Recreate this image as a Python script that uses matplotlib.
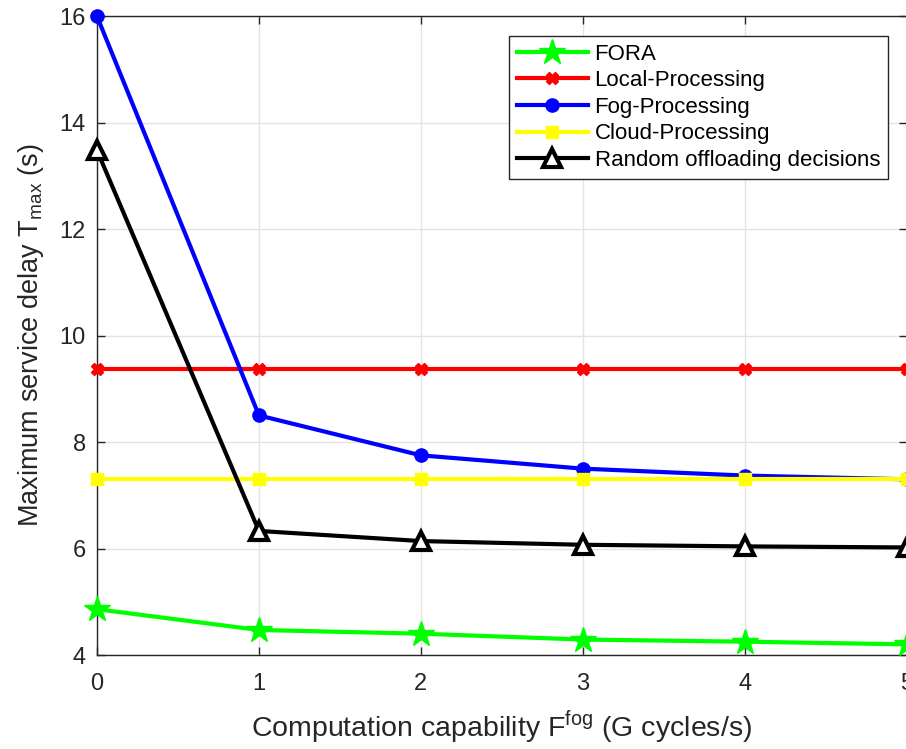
import matplotlib
matplotlib.use('Agg')
import matplotlib.pyplot as plt

# Computation capability of fog nodes (G cycles/s)
f_fog = [0, 1, 2, 3, 4, 5]

# Maximum service delay for each scheme (s)
fora = [4.86, 4.47, 4.40, 4.29, 4.25, 4.20]
local_proc = [9.37, 9.37, 9.37, 9.37, 9.37, 9.37]
fog_proc = [16.0, 8.50, 7.75, 7.50, 7.37, 7.30]
cloud_proc = [7.31, 7.31, 7.31, 7.31, 7.31, 7.31]
random_dec = [13.48, 6.33, 6.14, 6.07, 6.04, 6.02]

labels = ['FORA', 'Local-Processing', 'Fog-Processing', 'Cloud-Processing',
          'Random offloading decisions']


def main():
    plt.rcParams['font.family'] = ['Liberation Sans', 'DejaVu Sans']
    plt.rcParams['mathtext.fontset'] = 'custom'
    plt.rcParams['mathtext.rm'] = 'Liberation Sans'
    fig = plt.figure(figsize=(9.06, 7.49), dpi=100)
    ax = fig.add_axes([0.107, 0.1255, 0.894, 0.853])

    lw = 3
    ax.plot(f_fog, fora, color=(0, 1, 0), lw=lw, marker='*', ms=19,
            label=labels[0], clip_on=False, zorder=3)
    ax.plot(f_fog, local_proc, color='red', lw=lw, marker='X', ms=8,
            label=labels[1], clip_on=False, zorder=3)
    ax.plot(f_fog, fog_proc, color='blue', lw=lw, marker='o', ms=9.5,
            label=labels[2], clip_on=False, zorder=3)
    ax.plot(f_fog, cloud_proc, color='yellow', lw=lw, marker='s', ms=9,
            label=labels[3], clip_on=False, zorder=3)
    ax.plot(f_fog, random_dec, color='black', lw=lw, marker='^', ms=13,
            mfc='white', mew=3, label=labels[4], clip_on=False, zorder=3)

    ax.set_xlim(0, 5)
    ax.set_ylim(4, 16)
    ax.set_xticks(range(0, 6))
    ax.set_yticks(range(4, 17, 2))
    ax.grid(True, color='#e3e3e3', lw=1)
    ax.set_axisbelow(True)

    ax.tick_params(direction='in', length=6, width=1, colors='#262626',
                   labelsize=17, top=True, right=True)
    ax.tick_params(axis='x', pad=13)
    ax.tick_params(axis='y', pad=8)
    for s in ax.spines.values():
        s.set_color('#262626')
        s.set_linewidth(1)

    ax.set_xlabel(r'Computation capability F$^{\mathrm{fog}}$ (G cycles/s)',
                  fontsize=20.5, color='#262626', labelpad=10)
    ax.set_ylabel(r'Maximum service delay T$_{\mathrm{max}}$ (s)',
                  fontsize=19.5, color='#262626', labelpad=10)

    leg = ax.legend(loc='upper right', bbox_to_anchor=(0.9765, 0.969),
                    borderaxespad=0, fontsize=16, fancybox=False,
                    edgecolor='#262626', framealpha=1, handlelength=3.2,
                    borderpad=0.35, labelspacing=0.25, handletextpad=0.3)
    leg.get_frame().set_linewidth(1)

    fig.savefig('out.png', dpi=100)


if __name__ == "__main__":
    main()
